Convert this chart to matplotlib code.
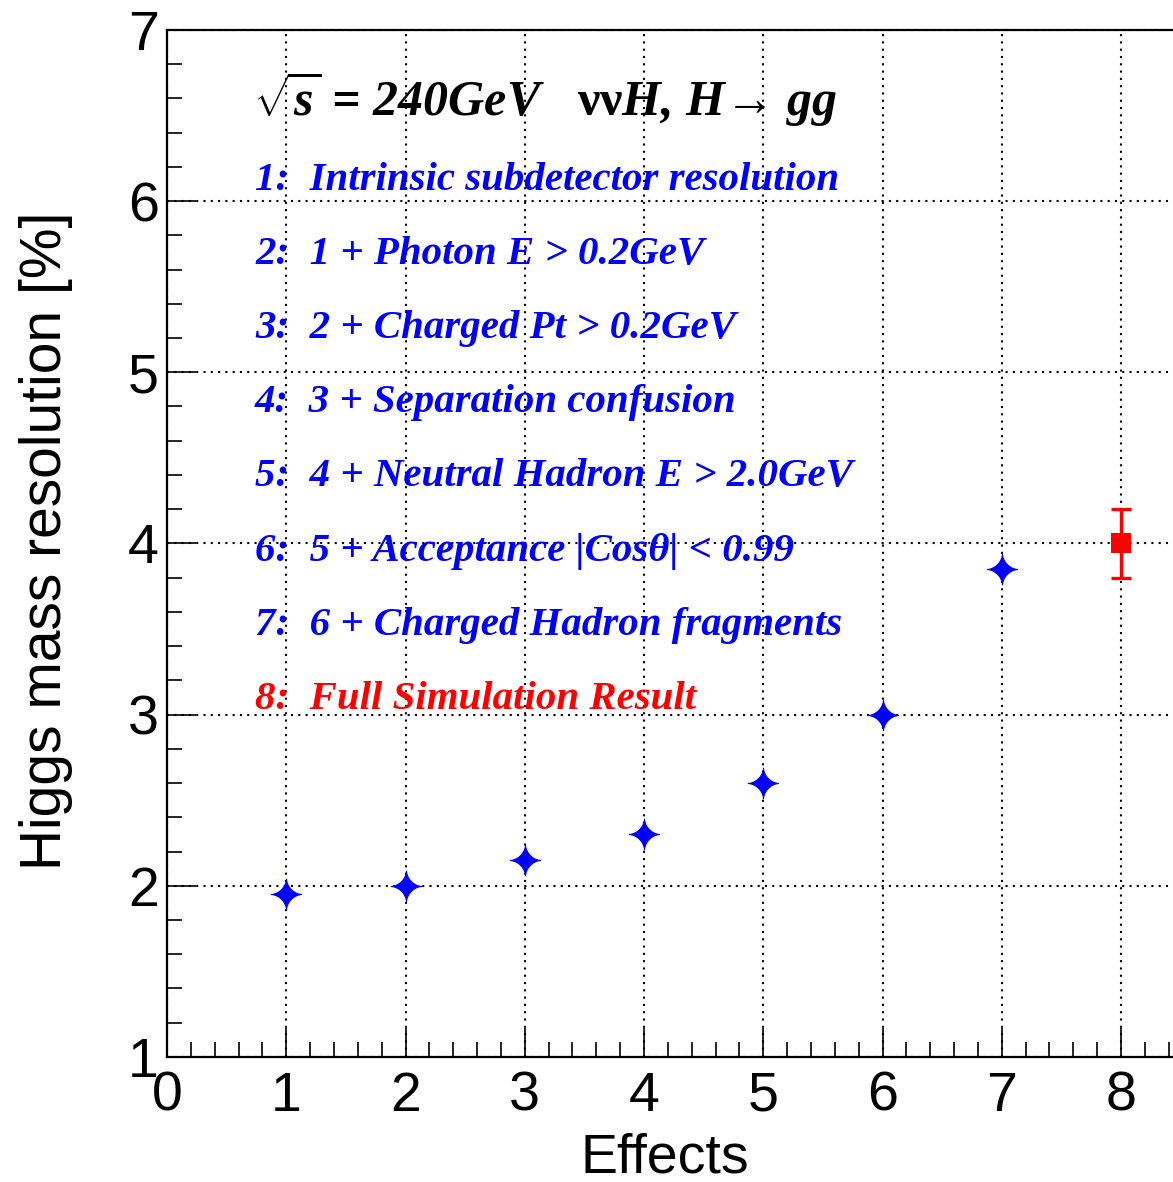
# Higgs mass resolution vs. effects, ROOT-style figure
import numpy as np
import matplotlib
matplotlib.use("Agg")
import matplotlib.pyplot as plt
from matplotlib.path import Path
from matplotlib.ticker import MultipleLocator

# data
effects = [1, 2, 3, 4, 5, 6, 7]
resolution = [1.95, 2.0, 2.15, 2.3, 2.6, 3.0, 3.85]
full_x = [8]
full_y = [4.0]
full_err = [0.2]

labels = [
    "1:  Intrinsic subdetector resolution",
    "2:  1 + Photon E > 0.2GeV",
    "3:  2 + Charged Pt > 0.2GeV",
    "4:  3 + Separation confusion",
    "5:  4 + Neutral Hadron E > 2.0GeV",
    "6:  5 + Acceptance |Cosθ| < 0.99",
    "7:  6 + Charged Hadron fragments",
    "8:  Full Simulation Result",
]
label_colors = ["blue"] * 7 + ["red"]
label_y = [6.065, 5.633, 5.200, 4.768, 4.336, 3.898, 3.466, 3.034]

plt.rcParams['mathtext.fontset'] = 'custom'
plt.rcParams['mathtext.rm'] = 'Liberation Serif:bold:italic'
plt.rcParams['mathtext.it'] = 'Liberation Serif:bold:italic'
plt.rcParams['mathtext.sf'] = 'Liberation Serif:bold'

fig = plt.figure(figsize=(11.73, 11.82), dpi=100)
ax = fig.add_axes([0.1424, 0.1058, 0.8576, 0.8689])

# 4-point star marker (concave sides)
t = np.linspace(0, 2 * np.pi, 97)
star = Path(np.column_stack([np.sign(np.cos(t)) * np.abs(np.cos(t)) ** 3.3,
                             np.sign(np.sin(t)) * np.abs(np.sin(t)) ** 3.3]))

ax.plot(effects, resolution, ls='none', marker=star, ms=22, color='blue',
        mec='blue', mew=0.8, zorder=5)
ax.errorbar(full_x, full_y, yerr=full_err, fmt='none', ecolor='red',
            elinewidth=2.4, capsize=7.5, capthick=2.4, zorder=5)
ax.plot(full_x, full_y, ls='none', marker='s', ms=15, color='red', mew=0,
        zorder=6)

ax.set_xlim(0, 8.436)
ax.set_ylim(1, 7)
ax.xaxis.set_major_locator(MultipleLocator(1))
ax.xaxis.set_minor_locator(MultipleLocator(0.2))
ax.yaxis.set_major_locator(MultipleLocator(1))
ax.yaxis.set_minor_locator(MultipleLocator(0.2))

ax.grid(True, which='major', color='black', ls=(0, (1, 2.5)), lw=1.5)
ax.set_axisbelow(True)

ax.tick_params(which='both', direction='in', width=1.2, labelsize=40,
               top=False, right=False)
ax.tick_params(which='major', length=21)
ax.tick_params(which='minor', length=11)
ax.tick_params(axis='y', pad=6)
ax.tick_params(axis='x', pad=10)
for lab in ax.get_xticklabels() + ax.get_yticklabels():
    lab.set_family('Liberation Sans')

for side in ['left', 'bottom', 'top']:
    ax.spines[side].set_linewidth(1.6)
ax.spines['right'].set_visible(False)

ax.set_xlabel("Effects", fontsize=40, family='Liberation Sans')
ax.set_ylabel("Higgs mass resolution [%]", fontsize=41, family='Liberation Sans')
ax.xaxis.set_label_coords(0.495, -0.074)
ax.yaxis.set_label_coords(-0.093, 0.503)

ax.text(0.72, 6.503, r"$\sqrt{s}$ = 240GeV   $\mathsf{νν}$H, H→ gg",
        fontsize=36, family=['Liberation Serif', 'DejaVu Serif'],
        weight='bold', style='italic', va='baseline')

for txt, c, yy in zip(labels, label_colors, label_y):
    ax.text(0.738, yy, txt, fontsize=29.4, color=c,
            family=['Liberation Serif', 'DejaVu Serif'], weight='bold',
            style='italic', va='baseline')

fig.savefig("out.png", dpi=100)
